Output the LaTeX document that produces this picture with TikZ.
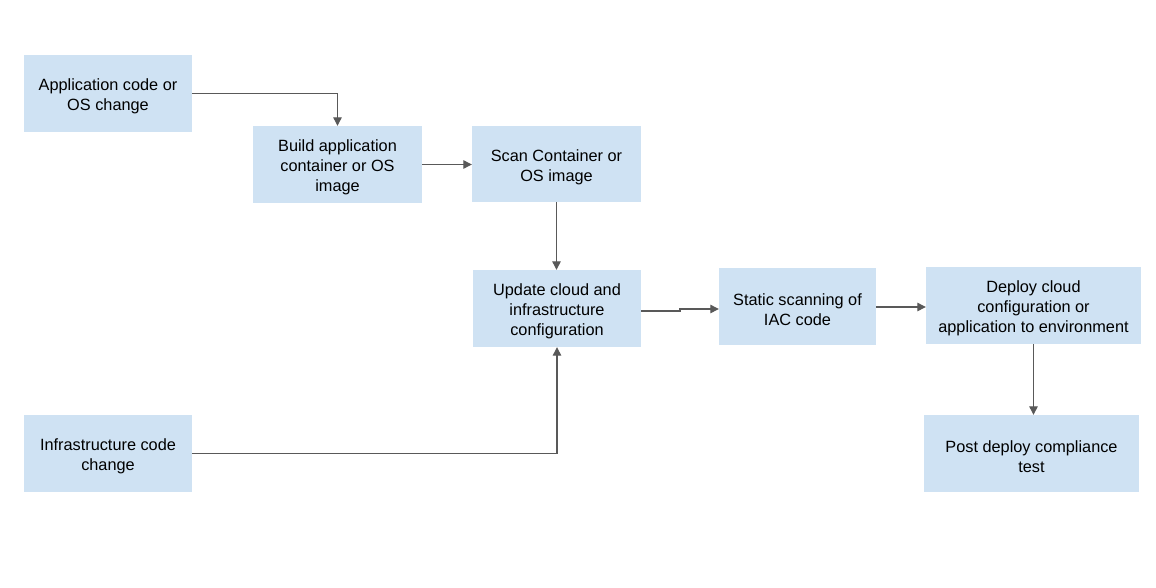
\documentclass[tikz,border=0pt]{standalone}
\usepackage{fontspec}
\setmainfont{Liberation Sans}
\usetikzlibrary{arrows.meta}
\definecolor{boxblue}{HTML}{CFE2F3}
\definecolor{linegray}{HTML}{595959}
\newcommand{\topstrut}{\rule{0pt}{18pt}}
\begin{document}
\begin{tikzpicture}[x=1pt,y=-1pt,
  box/.style={fill=boxblue, draw=none, inner sep=0pt, align=center,
    font=\fontsize{16.3}{20}\selectfont, text=black},
  conn/.style={draw=linegray, line width=1.2pt, -{Triangle[length=8.5pt,width=8.5pt]}}]
\useasboundingbox[fill=white] (0,0) rectangle (1156,588);
\node[box, minimum width=168pt, minimum height=77pt] (b1) at (108,93.5) {\topstrut Application code or\\OS change};
\node[box, minimum width=169pt, minimum height=77pt] (b2) at (337.5,164.5) {\topstrut Build application\\container or OS\\image};
\node[box, minimum width=169pt, minimum height=76pt] (b3) at (556.5,164) {\topstrut Scan Container or\\OS image};
\node[box, minimum width=168pt, minimum height=77pt] (b4) at (557,308.5) {\topstrut Update cloud and\\infrastructure\\configuration};
\node[box, minimum width=157pt, minimum height=77pt] (b5) at (797.5,306.5) {\topstrut Static scanning of\\IAC code};
\node[box, minimum width=215pt, minimum height=77pt] (b6) at (1033.5,305.5) {\topstrut Deploy cloud\\configuration or\\application to environment};
\node[box, minimum width=215pt, minimum height=77pt] (b7) at (1031.5,453.5) {\topstrut Post deploy compliance\\test};
\node[box, minimum width=168pt, minimum height=77pt] (b8) at (108,453.5) {\topstrut Infrastructure code\\change};
\draw[conn] (b1.east) -| (b2.north);
\draw[conn] (b2.east) -- (b2.east -| b3.west);
\draw[conn] (b3.south) -- (b3.south |- b4.north);
\draw[conn] (b8.east) -| (b4.south);
\coordinate (j1) at (680,311);
\coordinate (j2) at (680,309);
\draw[conn] (b4.east |- j1) -- (j1) -- (j2) -- (b5.west |- j2);
\coordinate (j3) at (0,307);
\draw[conn] (b5.east |- j3) -- (b6.west |- j3);
\draw[conn] (b6.south) -- (b6.south |- b7.north);
\end{tikzpicture}
\end{document}
